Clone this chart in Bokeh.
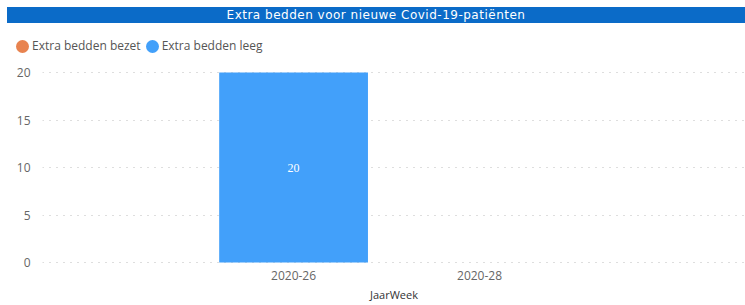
from bokeh.plotting import figure
from bokeh.layouts import column
from bokeh.models import (ColumnDataSource, Range1d, FixedTicker, LabelSet, Div)
from bokeh.embed import file_html
from bokeh.resources import INLINE

# ---- data ----
weeks = ["2020-26", "2020-28"]
bezet = [0, 0]
leeg = [20, 0]
series_names = ["Extra bedden bezet", "Extra bedden leeg"]
series_colors = ["#E8834F", "#42A0FA"]
y_ticks = [0, 5, 10, 15, 20]
title_text = "Extra bedden voor nieuwe Covid-19-patiënten"
x_title = "JaarWeek"

xs = list(range(len(weeks)))
src = ColumnDataSource(dict(
    x=xs,
    bezet=bezet,
    leeg=leeg,
    mid=[b + l / 2 for b, l in zip(bezet, leeg)],
    label=[str(l) if l > 0 else "" for l in leeg],
))

W = 738

# ---- title bar ----
title = Div(text=title_text, width=W, height=16, margin=(0, 0, 0, 0),
            styles={"background-color": "#0B6BC8", "color": "white",
                    "text-align": "center", "font-family": "DejaVu Sans",
                    "font-size": "12px", "line-height": "16px",
                    "letter-spacing": "0.5px", "width": f"{W}px",
                    "height": "16px", "overflow": "hidden"})

# ---- legend strip ----
parts = []
for i, (name, col) in enumerate(zip(series_names, series_colors)):
    ml = 0 if i == 0 else 5
    parts.append(
        f'<span style="display:inline-block;width:13px;height:13px;border-radius:50%;'
        f'background:{col};margin-left:{ml}px;margin-right:3px;flex:none"></span>'
        f'<span style="white-space:nowrap">{name}</span>')
legend_html = ('<div style="display:flex;align-items:center;height:14px;'
               'font-family:\'Open Sans\';font-size:12px;color:#555555">'
               + "".join(parts) + '</div>')
lg = Div(text=legend_html, width=W, height=36, margin=(0, 0, 0, 0),
         styles={"padding-top": "16px", "padding-left": "9px",
                 "box-sizing": "border-box", "width": f"{W}px",
                 "height": "36px", "overflow": "hidden"})

# ---- main chart ----
p = figure(width=W, height=245, output_backend="svg", toolbar_location=None,
           x_range=Range1d(-1.35, 2.43), y_range=Range1d(-0.1, 20.63),
           min_border_left=35, min_border_right=0, min_border_top=7,
           min_border_bottom=40, margin=(0, 0, 0, 0))

p.outline_line_color = None
p.background_fill_color = "white"
p.border_fill_color = "white"

p.vbar_stack(["bezet", "leeg"], x="x", width=0.8, color=series_colors,
             line_color=None, source=src)

labels = LabelSet(x="x", y="mid", text="label", source=src, text_align="center",
                  text_baseline="middle", text_color="white", text_font_size="12px",
                  text_font="Open Sans")
p.add_layout(labels)

p.xaxis.ticker = FixedTicker(ticks=xs)
p.xaxis.major_label_overrides = {i: w for i, w in enumerate(weeks)}
p.xaxis.axis_label = x_title
p.xaxis.axis_label_text_font = "Open Sans"
p.xaxis.axis_label_text_font_size = "11px"
p.xaxis.axis_label_text_font_style = "normal"
p.xaxis.axis_label_text_color = "#333333"
p.xaxis.axis_label_standoff = 4
p.yaxis.ticker = FixedTicker(ticks=y_ticks)
for ax in (p.xaxis, p.yaxis):
    ax.axis_line_color = None
    ax.major_tick_line_color = None
    ax.minor_tick_line_color = None
    ax.major_label_text_font = "Open Sans"
    ax.major_label_text_font_size = "12px"
    ax.major_label_text_color = "#666666"
p.yaxis.major_label_standoff = 6
p.xaxis.major_label_standoff = 1

p.xgrid.grid_line_color = None
p.ygrid.grid_line_color = "#BDBDBD"
p.ygrid.grid_line_dash = "1 6"
p.ygrid.grid_line_width = 1
p.ygrid.ticker = FixedTicker(ticks=y_ticks)

layout = column(title, lg, p, spacing=0, margin=(7, 0, 0, 7))
open("out.html", "w").write(file_html(layout, INLINE))
